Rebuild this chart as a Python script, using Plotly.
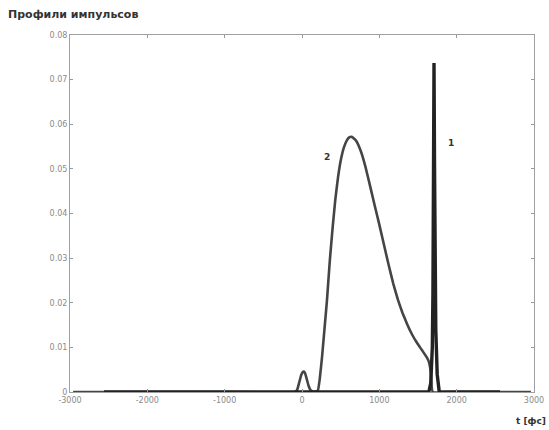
import plotly.graph_objects as go

# Pulse 1: short intense pulse (time in fs, intensity)
t1 = [-2560, -1500, 0, 1000, 1640, 1665, 1685, 1693, 1700, 1707, 1714, 1721, 1730, 1748, 1775, 2000, 2560]
p1 = [0, 0, 0, 0, 0, 0.002, 0.010, 0.022, 0.046, 0.0737, 0.050, 0.030, 0.014, 0.004, 0, 0, 0]

# Pulse 2: broad asymmetric pulse with a small precursor near t = 0
t2 = [-2960, -2000, -1000, -90, -60, -35, -10, 10, 25, 40, 60, 85, 110, 140, 175, 205, 230, 260,
      290, 323, 360, 397, 430, 465, 500, 540, 580, 615, 642, 700, 760, 820, 880, 940, 1000, 1060,
      1120, 1180, 1240, 1300, 1360, 1420, 1480, 1550, 1612, 1640, 1665, 1690, 2000, 2960]
p2 = [0, 0, 0, 0, 0.0006, 0.0022, 0.0038, 0.0045, 0.0046, 0.0042, 0.003, 0.0014, 0.0004, 0.0001,
      0.0001, 0.0003, 0.003, 0.008, 0.014, 0.0206, 0.0295, 0.0370, 0.0430, 0.0480, 0.0518, 0.0547,
      0.0564, 0.0571, 0.0572, 0.0563, 0.0540, 0.0505, 0.0462, 0.0418, 0.0375, 0.0330, 0.0285,
      0.0243, 0.0207, 0.0177, 0.0152, 0.0130, 0.0112, 0.0094, 0.0078, 0.0068, 0.0045, 0, 0, 0]

x_ticks = [-3000, -2000, -1000, 0, 1000, 2000, 3000]
x_tick_text = ["-3000", "-2000", "-1000", "0", "1000", "2000", "3000"]
y_ticks = [0, 0.01, 0.02, 0.03, 0.04, 0.05, 0.06, 0.07, 0.08]
y_tick_text = ["0", "0.01", "0.02", "0.03", "0.04", "0.05", "0.06", "0.07", "0.08"]

fig = go.Figure()
fig.add_trace(go.Scatter(x=t2, y=p2, mode="lines",
                         line=dict(color="#454545", width=2.6, shape="spline", smoothing=0.3),
                         hoverinfo="skip"))
fig.add_trace(go.Scatter(x=t1, y=p1, mode="lines", line=dict(color="#222222", width=3.4),
                         hoverinfo="skip"))

label_font = dict(family="DejaVu Sans", size=9, color="#333333")
fig.add_annotation(x=1930, y=0.0558, text="<b>1</b>", showarrow=False, font=label_font)
fig.add_annotation(x=320, y=0.0527, text="<b>2</b>", showarrow=False, font=label_font)

# Title and time-axis caption
fig.add_annotation(xref="paper", yref="paper", x=-0.138, y=1.057, xanchor="left", yanchor="middle",
                   text="<b>Профили импульсов</b>", showarrow=False,
                   font=dict(family="DejaVu Sans", size=11, color="#333333"))
fig.add_annotation(xref="paper", yref="paper", x=1.03, y=-0.08, xanchor="right", yanchor="middle",
                   text="<b>t [фс]</b>", showarrow=False,
                   font=dict(family="DejaVu Sans", size=9, color="#333333"))

tick_font = dict(family="DejaVu Sans", size=8, color="#8a8a8a")
fig.update_xaxes(range=[-3000, 3000], tickvals=x_ticks, ticktext=x_tick_text, ticks="inside", ticklen=3,
                 tickcolor="#999999", showline=True, linecolor="#a0a0a0", linewidth=1, mirror="ticks",
                 showgrid=False, zeroline=False, tickfont=tick_font, automargin=False)
fig.update_yaxes(range=[0, 0.08], tickvals=y_ticks, ticktext=y_tick_text, ticks="inside", ticklen=3,
                 tickcolor="#999999", showline=True, linecolor="#a0a0a0", linewidth=1, mirror="ticks",
                 showgrid=False, zeroline=False, tickfont=tick_font, automargin=False)

fig.update_layout(width=549, height=430, margin=dict(l=70, r=15, t=35, b=38),
                  paper_bgcolor="white", plot_bgcolor="white", showlegend=False)

fig.write_html("out.html")
